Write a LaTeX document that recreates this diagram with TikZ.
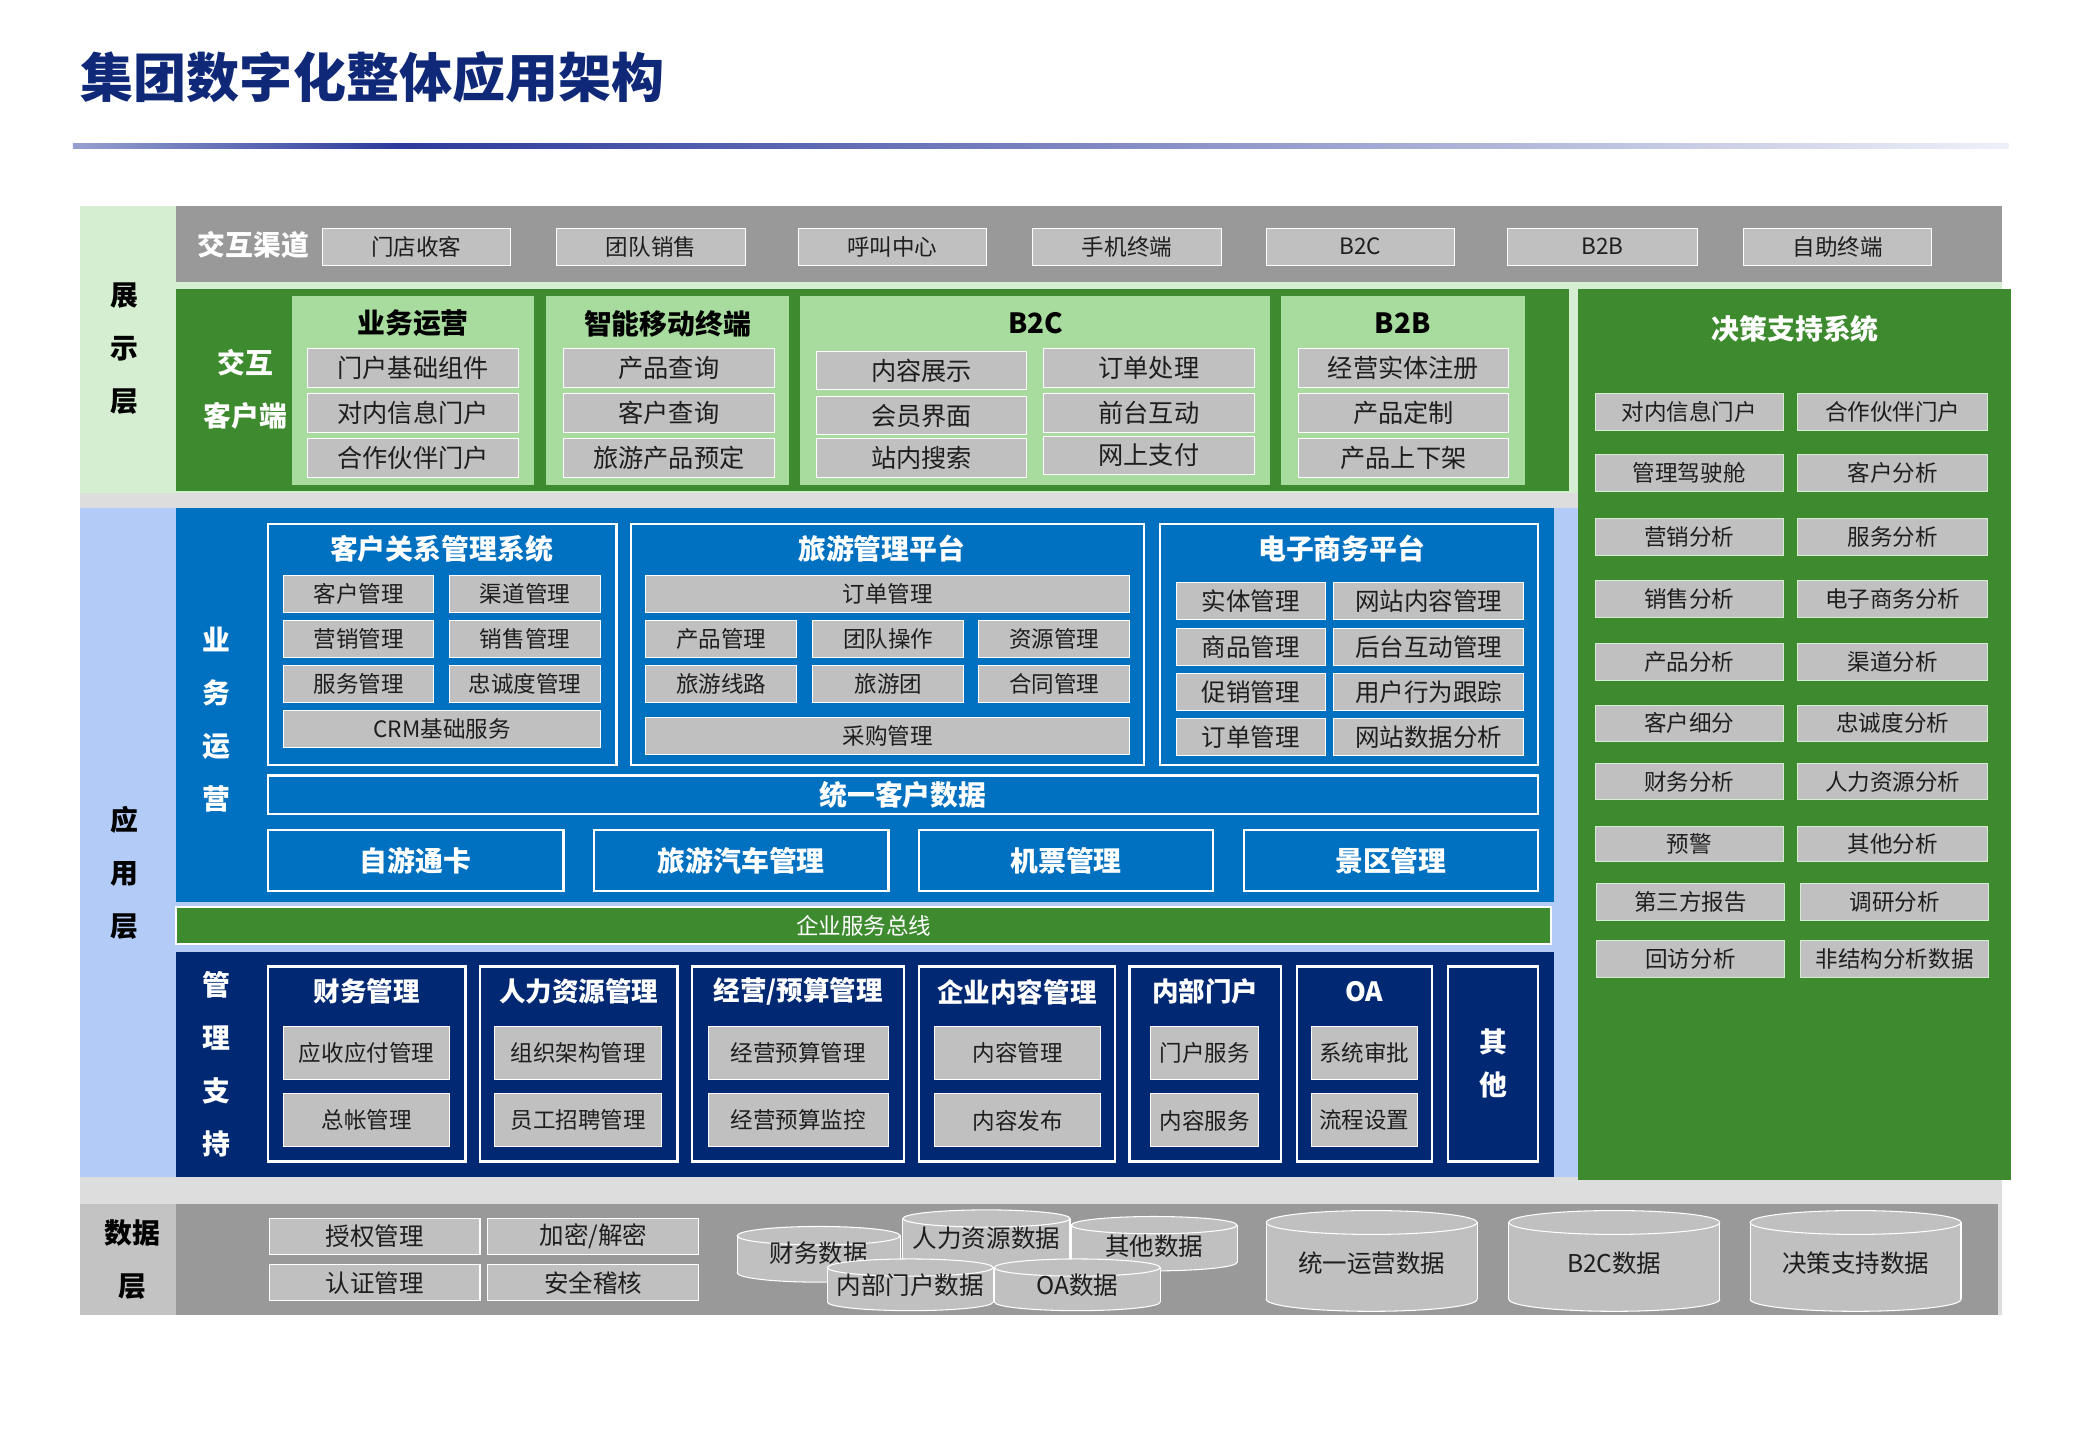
\documentclass[tikz,border=0pt]{standalone}
\usepackage{fontspec}
\setmainfont{Noto Sans CJK SC}
\definecolor{dgreen}{RGB}{62,139,47}
\definecolor{lgreen}{RGB}{168,219,158}
\definecolor{pgreen}{RGB}{213,237,208}
\definecolor{boxgray}{RGB}{192,192,192}
\definecolor{bandgray}{RGB}{153,153,153}
\definecolor{bggray}{RGB}{221,221,221}
\definecolor{labgray}{RGB}{195,195,195}
\definecolor{mblue}{RGB}{0,112,192}
\definecolor{navy}{RGB}{0,40,115}
\definecolor{lblue}{RGB}{179,204,247}
\definecolor{tnavy}{RGB}{16,40,120}
\definecolor{gdark}{RGB}{44,58,155}
\definecolor{gleft}{RGB}{150,160,208}
\definecolor{gright}{RGB}{238,240,248}
\definecolor{txt}{RGB}{30,30,30}
\newcommand\fsz[1]{\fontsize{#1}{#1}\selectfont}
\newcommand\mybox[7]{%
 \pgfmathsetmacro\mbcx{(#3+#5)/2}%
 \pgfmathsetmacro\mbcy{(#4+#6)/2}%
 \pgfmathsetmacro\mbw{#5-#3}%
 \pgfmathsetmacro\mbh{#6-#4}%
 \node[#1,minimum width=\mbw pt,minimum height=\mbh pt] (#2) at (\mbcx,\mbcy) {#7};}
\newcommand\mycyl[8]{%
 \pgfmathsetmacro\mcx{(#2+#3)/2}\pgfmathsetmacro\mrx{(#3-#2)/2}%
 \filldraw[fill=boxgray,draw=white,line width=0.8pt] (\mcx,#5) ellipse [x radius=\mrx pt, y radius=#6 pt];
 \fill[boxgray] (#2,#4) rectangle (#3,#5);
 \draw[white,line width=0.8pt] (#2,#4) -- (#2,#5) (#3,#4) -- (#3,#5);
 \filldraw[fill=boxgray,draw=white,line width=0.8pt] (\mcx,#4) ellipse [x radius=\mrx pt, y radius=#6 pt];
 \node[cyltext] (#1) at (\mcx,#8) {#7};}
\tikzset{
 base/.style={inner sep=0pt,outer sep=0pt},
 gbox/.style={base,fill=boxgray,draw=white,line width=0.8pt,text=txt},
 chbox/.style={gbox,font=\fsz{17}},
 ibox/.style={gbox,font=\fsz{19}},
 sbox/.style={gbox,font=\fsz{17}},
 ebox/.style={gbox,font=\fsz{18.5}},
 dbox/.style={gbox,draw=pgreen,font=\fsz{17}},
 nbox/.style={gbox,font=\fsz{17}},
 databox/.style={gbox,font=\fsz{18.5}},
 lgpanel/.style={base,fill=lgreen},
 bpanel/.style={base,fill=mblue,draw=white,line width=1.8pt},
 npanel/.style={base,fill=navy,draw=white,line width=1.8pt},
 wbold/.style={base,text=white,font=\bfseries\fsz{21}},
 kbold/.style={base,text=black,font=\bfseries\fsz{21}},
 vlab/.style={base,align=center,font=\bfseries\fontsize{21}{40}\selectfont},
 vlabb/.style={base,align=center,text=white,font=\bfseries\fontsize{21}{32}\selectfont},
 cyltext/.style={base,text=txt,font=\fsz{18.5}},
}
\begin{document}
\begin{tikzpicture}[x=1pt,y=-1pt]
\useasboundingbox (0,0) rectangle (1568,1086);
% title
\node[base,anchor=west,text=tnavy,font=\bfseries\fsz{40}] (title) at (61,58) {集团数字化整体应用架构};
\shade[left color=gleft,right color=gdark] (55,108) rectangle (300,112);
\shade[left color=gdark,right color=gright] (300,108) rectangle (1515,112);
% backgrounds
\fill[bggray] (60,155) rectangle (1510,992);
\fill[pgreen] (60,155) rectangle (1510,372);
\fill[lblue] (60,383) rectangle (1190,888);
\fill[labgray] (60,908) rectangle (133,992);
\fill[bandgray] (133,908) rectangle (1507,992);
\fill[bandgray] (133,155) rectangle (1510,213);
\fill[dgreen] (133,218) rectangle (1183,370);
\fill[dgreen] (1190,218) rectangle (1517,890);
% layer labels
\node[vlab] (l1) at (94,263) {展\\示\\层};
\node[vlab] (l2) at (94,658) {应\\用\\层};
\node[vlab] (l3) at (100,950) {数据\\层};
% channels
\node[wbold] (chl) at (191,185) {交互渠道};
\mybox{chbox}{c1}{243}{172}{385}{200}{门店收客}
\mybox{chbox}{c2}{420}{172}{562}{200}{团队销售}
\mybox{chbox}{c3}{602}{172}{744}{200}{呼叫中心}
\mybox{chbox}{c4}{779}{172}{921}{200}{手机终端}
\mybox{chbox}{c5}{955}{172}{1097}{200}{B2C}
\mybox{chbox}{c6}{1137}{172}{1280}{200}{B2B}
\mybox{chbox}{c7}{1315}{172}{1457}{200}{自助终端}
% interactive client
\node[vlab,text=white] (icl) at (185,294) {交互\\客户端};
\mybox{lgpanel}{p1}{220}{223}{403}{366}{}
\node[kbold] (p1t) at (311.5,244) {业务运营};
\mybox{ibox}{p1a}{232}{263}{391}{292}{门户基础组件}
\mybox{ibox}{p1b}{232}{297}{391}{326}{对内信息门户}
\mybox{ibox}{p1c}{232}{331}{391}{360}{合作伙伴门户}
\mybox{lgpanel}{p2}{412}{223}{595}{366}{}
\node[kbold] (p2t) at (503.5,244) {智能移动终端};
\mybox{ibox}{p2a}{425}{263}{584}{292}{产品查询}
\mybox{ibox}{p2b}{425}{297}{584}{326}{客户查询}
\mybox{ibox}{p2c}{425}{331}{584}{360}{旅游产品预定}
\mybox{lgpanel}{p3}{603}{223}{958}{366}{}
\node[kbold] (p3t) at (781,244) {B2C};
\mybox{ibox}{p3a}{616}{265}{774}{294}{内容展示}
\mybox{ibox}{p3b}{616}{299}{774}{328}{会员界面}
\mybox{ibox}{p3c}{616}{331}{774}{360}{站内搜索}
\mybox{ibox}{p3d}{787}{263}{946}{292}{订单处理}
\mybox{ibox}{p3e}{787}{297}{946}{326}{前台互动}
\mybox{ibox}{p3f}{787}{329}{946}{358}{网上支付}
\mybox{lgpanel}{p4}{966}{223}{1150}{366}{}
\node[kbold] (p4t) at (1058,244) {B2B};
\mybox{ibox}{p4a}{979}{263}{1138}{292}{经营实体注册}
\mybox{ibox}{p4b}{979}{297}{1138}{326}{产品定制}
\mybox{ibox}{p4c}{979}{331}{1138}{360}{产品上下架}
% decision support
\node[wbold] (dst) at (1354,248) {决策支持系统};
\mybox{dbox}{d1a}{1203}{297}{1345}{325}{对内信息门户}
\mybox{dbox}{d1b}{1356}{297}{1499}{325}{合作伙伴门户}
\mybox{dbox}{d2a}{1203}{343}{1345}{371}{管理驾驶舱}
\mybox{dbox}{d2b}{1356}{343}{1499}{371}{客户分析}
\mybox{dbox}{d3a}{1203}{391}{1345}{419}{营销分析}
\mybox{dbox}{d3b}{1356}{391}{1499}{419}{服务分析}
\mybox{dbox}{d4a}{1203}{438}{1345}{466}{销售分析}
\mybox{dbox}{d4b}{1356}{438}{1499}{466}{电子商务分析}
\mybox{dbox}{d5a}{1203}{485}{1345}{513}{产品分析}
\mybox{dbox}{d5b}{1356}{485}{1499}{513}{渠道分析}
\mybox{dbox}{d6a}{1203}{532}{1345}{559}{客户细分}
\mybox{dbox}{d6b}{1356}{532}{1499}{559}{忠诚度分析}
\mybox{dbox}{d7a}{1203}{576}{1345}{603}{财务分析}
\mybox{dbox}{d7b}{1356}{576}{1499}{603}{人力资源分析}
\mybox{dbox}{d8a}{1203}{623}{1345}{650}{预警}
\mybox{dbox}{d8b}{1356}{623}{1499}{650}{其他分析}
\mybox{dbox}{d9a}{1204}{666}{1346}{694}{第三方报告}
\mybox{dbox}{d9b}{1358}{666}{1500}{694}{调研分析}
\mybox{dbox}{d10a}{1204}{709}{1346}{737}{回访分析}
\mybox{dbox}{d10b}{1358}{709}{1500}{737}{非结构分析数据}
% business operations
\fill[mblue] (133,383) rectangle (1172,680);
\node[vlab,text=white] (bo) at (163,543) {业\\务\\运\\营};
\mybox{bpanel}{crm}{202}{395}{465}{577}{}
\node[wbold] (crmt) at (333,414) {客户关系管理系统};
\mybox{sbox}{crm1}{214}{434}{327}{462}{客户管理}
\mybox{sbox}{crm2}{339}{434}{453}{462}{渠道管理}
\mybox{sbox}{crm3}{214}{468}{327}{496}{营销管理}
\mybox{sbox}{crm4}{339}{468}{453}{496}{销售管理}
\mybox{sbox}{crm5}{214}{502}{327}{530}{服务管理}
\mybox{sbox}{crm6}{339}{502}{453}{530}{忠诚度管理}
\mybox{sbox}{crm7}{214}{536}{453}{564}{CRM基础服务}
\mybox{bpanel}{tour}{476}{395}{863}{577}{}
\node[wbold] (tourt) at (665,414) {旅游管理平台};
\mybox{sbox}{t1}{487}{434}{852}{462}{订单管理}
\mybox{sbox}{t2}{487}{468}{601}{496}{产品管理}
\mybox{sbox}{t3}{613}{468}{727}{496}{团队操作}
\mybox{sbox}{t4}{738}{468}{852}{496}{资源管理}
\mybox{sbox}{t5}{487}{502}{601}{530}{旅游线路}
\mybox{sbox}{t6}{613}{502}{727}{530}{旅游团}
\mybox{sbox}{t7}{738}{502}{852}{530}{合同管理}
\mybox{sbox}{t8}{487}{541}{852}{569}{采购管理}
\mybox{bpanel}{ec}{875}{395}{1160}{577}{}
\node[wbold] (ect) at (1012,414) {电子商务平台};
\mybox{ebox}{e1}{887}{439}{1000}{467}{实体管理}
\mybox{ebox}{e2}{1006}{439}{1149}{467}{网站内容管理}
\mybox{ebox}{e3}{887}{474}{1000}{502}{商品管理}
\mybox{ebox}{e4}{1006}{474}{1149}{502}{后台互动管理}
\mybox{ebox}{e5}{887}{508}{1000}{536}{促销管理}
\mybox{ebox}{e6}{1006}{508}{1149}{536}{用户行为跟踪}
\mybox{ebox}{e7}{887}{542}{1000}{570}{订单管理}
\mybox{ebox}{e8}{1006}{542}{1149}{570}{网站数据分析}
\mybox{bpanel,text=white,font=\bfseries\fsz{21}}{ucd}{202}{585}{1160}{614}{统一客户数据}
\mybox{bpanel,text=white,font=\bfseries\fsz{21}}{b1}{202}{626}{425}{672}{自游通卡}
\mybox{bpanel,text=white,font=\bfseries\fsz{21}}{b2}{448}{626}{670}{672}{旅游汽车管理}
\mybox{bpanel,text=white,font=\bfseries\fsz{21}}{b3}{693}{626}{915}{672}{机票管理}
\mybox{bpanel,text=white,font=\bfseries\fsz{21}}{b4}{938}{626}{1160}{672}{景区管理}
% service bus
\mybox{base,fill=dgreen,draw=white,line width=1.5pt,text=white,font=\fsz{17}}{esb}{133}{684}{1170}{712}{企业服务总线}
% management support
\fill[navy] (133,718) rectangle (1172,888);
\node[vlab,text=white] (ms) at (163,803) {管\\理\\支\\持};
\mybox{npanel}{m1}{202}{729}{351}{876}{}
\node[wbold,font=\bfseries\fsz{20}] (m1t) at (276.5,748) {财务管理};
\mybox{nbox}{m1a}{214}{774}{339}{814}{应收应付管理}
\mybox{nbox}{m1b}{214}{825}{339}{865}{总帐管理}
\mybox{npanel}{m2}{362}{729}{511}{876}{}
\node[wbold,font=\bfseries\fsz{20}] (m2t) at (436.5,748) {人力资源管理};
\mybox{nbox}{m2a}{373}{774}{499}{814}{组织架构管理}
\mybox{nbox}{m2b}{373}{825}{499}{865}{员工招聘管理}
\mybox{npanel}{m3}{522}{729}{682}{876}{}
\node[wbold,font=\bfseries\fsz{20}] (m3t) at (602,748) {经营/预算管理};
\mybox{nbox}{m3a}{534}{774}{670}{814}{经营预算管理}
\mybox{nbox}{m3b}{534}{825}{670}{865}{经营预算监控}
\mybox{npanel}{m4}{693}{729}{841}{876}{}
\node[wbold,font=\bfseries\fsz{20}] (m4t) at (767,748) {企业内容管理};
\mybox{nbox}{m4a}{705}{774}{830}{814}{内容管理}
\mybox{nbox}{m4b}{705}{825}{830}{865}{内容发布}
\mybox{npanel}{m5}{852}{729}{966}{876}{}
\node[wbold,font=\bfseries\fsz{20}] (m5t) at (909,748) {内部门户};
\mybox{nbox}{m5a}{868}{774}{949}{814}{门户服务}
\mybox{nbox}{m5b}{868}{825}{949}{865}{内容服务}
\mybox{npanel}{m6}{978}{729}{1080}{876}{}
\node[wbold,font=\bfseries\fsz{20}] (m6t) at (1029,748) {OA};
\mybox{nbox}{m6a}{989}{774}{1069}{814}{系统审批}
\mybox{nbox}{m6b}{989}{825}{1069}{865}{流程设置}
\mybox{npanel}{m7}{1092}{729}{1160}{876}{}
\node[vlabb] (m7t) at (1126,802) {其\\他};
% data layer
\mybox{databox}{s1}{203}{919}{362}{946}{授权管理}
\mybox{databox}{s2}{368}{919}{527}{946}{加密/解密}
\mybox{databox}{s3}{203}{954}{362}{981}{认证管理}
\mybox{databox}{s4}{368}{954}{527}{981}{安全稽核}
\mycyl{db1}{556}{679}{932}{960}{7}{财务数据}{945}
\mycyl{db2}{681}{807}{919}{950}{6.5}{人力资源数据}{934}
\mycyl{db3}{808}{933}{924}{952}{6.5}{其他数据}{940}
\mycyl{db4}{624}{749}{956}{982}{6.5}{内部门户数据}{969}
\mycyl{db5}{750}{875}{956}{982}{6.5}{OA数据}{969}
\mycyl{db6}{955}{1114}{922}{980}{9}{统一运营数据}{953}
\mycyl{db7}{1138}{1297}{922}{980}{9}{B2C数据}{953}
\mycyl{db8}{1320}{1479}{922}{980}{9}{决策支持数据}{953}
\end{tikzpicture}
\end{document}
